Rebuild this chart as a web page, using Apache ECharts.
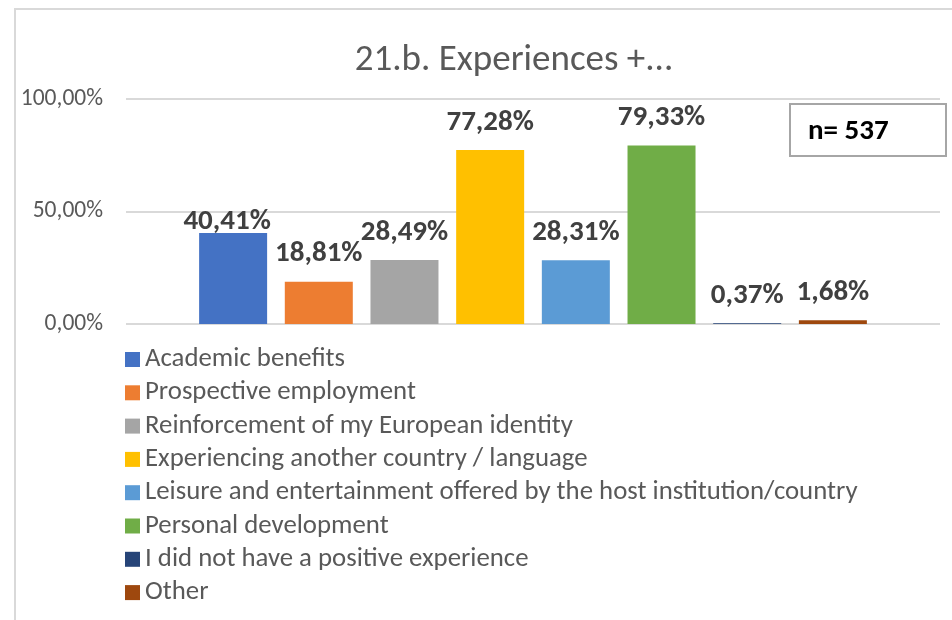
<!DOCTYPE html>
<html>
<head>
<meta charset="utf-8">
<script src="https://cdn.jsdelivr.net/npm/echarts@6/dist/echarts.min.js"></script>
<style>
  html, body { margin: 0; padding: 0; background: #fff; }
  #chart { width: 952px; height: 620px; }
</style>
</head>
<body>
<div id="chart"></div>
<script>
const seriesNames = [
  'Academic benefits',
  'Prospective employment',
  'Reinforcement of my European identity',
  'Experiencing another country / language',
  'Leisure and entertainment offered by the host institution/country',
  'Personal development',
  'I did not have a positive experience',
  'Other'
];
const seriesValues = [40.41, 18.81, 28.49, 77.28, 28.31, 79.33, 0.37, 1.68];
const seriesColors = ['#4472C4', '#ED7D31', '#A5A5A5', '#FFC000', '#5B9BD5', '#70AD47', '#264478', '#9E480E'];
const categories = [''];
const yTicks = [0, 50, 100];

const font = 'Carlito, Lato, "Liberation Sans", sans-serif';
const fmt = v => v.toFixed(2).replace('.', ',') + '%';

const chart = echarts.init(document.getElementById('chart'), null, { renderer: 'canvas' });

chart.setOption({
  backgroundColor: '#fff',
  animation: false,
  textStyle: { fontFamily: font },
  title: {
    text: '21.b. Experiences +...',
    left: 509,
    top: 37,
    textAlign: 'center',
    textStyle: { fontFamily: font, fontSize: 37, fontWeight: 'normal', color: '#595959' }
  },
  graphic: [
    {
      type: 'polyline',
      shape: { points: [[15, 620], [15, 9], [952, 9]] },
      style: { stroke: '#d9d9d9', lineWidth: 2, fill: null },
      silent: true
    },
    {
      type: 'group',
      left: 789,
      top: 103,
      children: [
        {
          type: 'rect',
          shape: { x: 0, y: 0, width: 156, height: 52 },
          style: { fill: '#fff', stroke: '#a6a6a6', lineWidth: 2 }
        },
        {
          type: 'text',
          x: 18,
          y: 28,
          style: {
            text: 'n= 537',
            font: 'bold 29px ' + font,
            fill: '#000',
            verticalAlign: 'middle'
          }
        }
      ]
    }
  ],
  legend: {
    orient: 'vertical',
    left: 120,
    top: 341,
    height: 290,
    icon: 'rect',
    itemWidth: 15,
    itemHeight: 15,
    itemGap: 6.3,
    textStyle: { fontFamily: font, fontSize: 26.8, color: '#595959', lineHeight: 26 },
    data: seriesNames
  },
  grid: { left: 126, right: 12, top: 99, bottom: 296 },
  xAxis: {
    type: 'category',
    data: categories,
    axisLine: { show: false },
    axisTick: { show: false },
    axisLabel: { show: false }
  },
  yAxis: {
    type: 'value',
    min: yTicks[0],
    max: yTicks[yTicks.length - 1],
    interval: 50,
    axisLine: { show: false },
    axisTick: { show: false },
    axisLabel: {
      formatter: v => fmt(v),
      fontFamily: font,
      fontSize: 23.5,
      color: '#595959',
      margin: 23
    },
    splitLine: { lineStyle: { color: '#d9d9d9', width: 2 } }
  },
  series: seriesNames.map((name, i) => ({
    name,
    type: 'bar',
    data: [seriesValues[i]],
    barWidth: 68,
    barGap: '26%',
    itemStyle: { color: seriesColors[i] },
    label: {
      show: true,
      position: 'top',
      // first label sits lower and a bit left in the original
      distance: i === 0 ? 1 : 13,
      offset: i === 0 ? [-6, 4] : [0, 0],
      formatter: p => fmt(p.value),
      fontFamily: font,
      fontSize: 29,
      fontWeight: 'bold',
      color: '#404040'
    }
  }))
});
</script>
</body>
</html>
